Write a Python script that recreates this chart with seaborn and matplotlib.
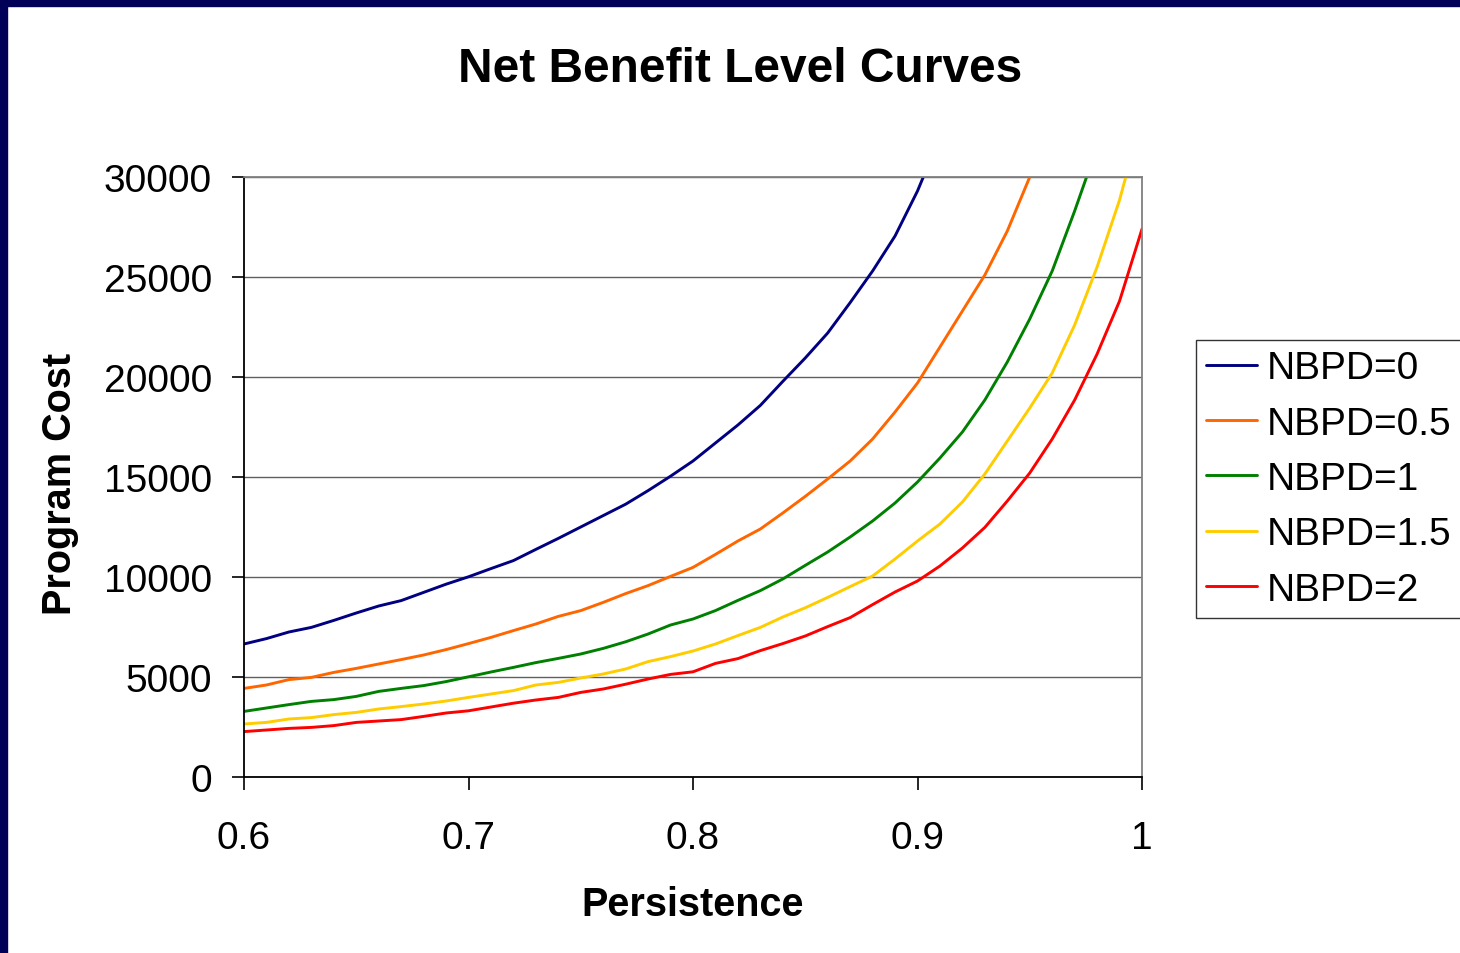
import numpy as np
import pandas as pd
import matplotlib
matplotlib.use('Agg')
import matplotlib.pyplot as plt
from matplotlib.patches import Rectangle
import seaborn as sns

# Persistence grid (x) and program cost for each NBPD level
persistence = [round(0.60 + 0.01 * i, 2) for i in range(41)]

nbpd_0 = [6650, 6920, 7250, 7480, 7830, 8200, 8550, 8820, 9230, 9640,
          10010, 10420, 10820, 11380, 11930, 12500, 13070, 13640, 14320, 15040,
          15800, 16700, 17600, 18580, 19780, 20950, 22200, 23720, 25300, 27050,
          29300, 32000]
nbpd_05 = [4430, 4600, 4870, 4980, 5230, 5430, 5650, 5870, 6100, 6370,
           6670, 6980, 7320, 7650, 8030, 8320, 8730, 9170, 9570, 10030,
           10480, 11130, 11800, 12400, 13200, 14030, 14900, 15800, 16900, 18250,
           19700, 21500, 23300, 25100, 27300, 30000, 33500]
nbpd_1 = [3280, 3450, 3620, 3780, 3870, 4030, 4280, 4430, 4570, 4770,
          5010, 5250, 5480, 5720, 5930, 6150, 6430, 6760, 7150, 7600,
          7900, 8320, 8830, 9320, 9900, 10580, 11250, 12000, 12800, 13700,
          14750, 15950, 17250, 18850, 20750, 22900, 25300, 28300, 31500]
nbpd_15 = [2650, 2730, 2900, 2970, 3120, 3230, 3400, 3520, 3650, 3800,
           3980, 4150, 4320, 4600, 4730, 4950, 5150, 5400, 5770, 6020,
           6300, 6650, 7070, 7480, 8000, 8460, 8980, 9520, 10050, 10900,
           11800, 12650, 13750, 15150, 16800, 18450, 20200, 22600, 25500, 28850,
           33000]
nbpd_2 = [2270, 2350, 2430, 2480, 2570, 2730, 2800, 2870, 3030, 3200,
          3310, 3500, 3690, 3850, 3980, 4230, 4400, 4640, 4900, 5130,
          5260, 5680, 5920, 6320, 6670, 7050, 7520, 7970, 8620, 9250,
          9800, 10550, 11450, 12480, 13800, 15200, 16900, 18850, 21150, 23800,
          27400]

series_names = ['NBPD=0', 'NBPD=0.5', 'NBPD=1', 'NBPD=1.5', 'NBPD=2']
series_values = [nbpd_0, nbpd_05, nbpd_1, nbpd_15, nbpd_2]
colors = ['#000080', '#FF6600', '#008000', '#FFCC00', '#FF0000']

y_ticks = [0, 5000, 10000, 15000, 20000, 25000, 30000]
x_ticks = [0.6, 0.7, 0.8, 0.9, 1.0]
x_tick_labels = ['0.6', '0.7', '0.8', '0.9', '1']

rows = []
for name, vals in zip(series_names, series_values):
    for p, v in zip(persistence, vals):
        rows.append({'Persistence': p, 'Cost': v, 'Series': name})
df = pd.DataFrame(rows)

sns.set_style('white')
plt.rcParams['font.family'] = ['Liberation Sans', 'DejaVu Sans']
plt.rcParams['text.color'] = 'black'
plt.rcParams['axes.labelcolor'] = 'black'
plt.rcParams['xtick.color'] = 'black'
plt.rcParams['ytick.color'] = 'black'

fig = plt.figure(figsize=(14.6, 9.54), dpi=100)
ax = fig.add_axes([244 / 1460, 1 - 778 / 954, 898 / 1460, 600 / 954])

# slide frame (dark navy strip at top and left)
fig.patches.append(Rectangle((0, 1 - 7 / 954), 1, 7 / 954, transform=fig.transFigure,
                             color='#000058', zorder=0))
fig.patches.append(Rectangle((0, 0), 7 / 1460, 1, transform=fig.transFigure,
                             color='#000058', zorder=0))

sns.lineplot(data=df, x='Persistence', y='Cost', hue='Series', hue_order=series_names,
             palette=colors, linewidth=2.1, ax=ax, legend=True)

ax.set_xlim(0.6, 1.0)
ax.set_ylim(0, 30000)
ax.set_yticks(y_ticks)
ax.set_yticklabels([str(t) for t in y_ticks])
ax.set_xticks(x_ticks)
ax.set_xticklabels(x_tick_labels)
ax.yaxis.grid(True, color='#606060', linewidth=1.0)
ax.set_axisbelow(True)

ax.tick_params(axis='both', labelsize=28, direction='out', length=9, width=1.2,
               color='black', labelcolor='black', left=True, bottom=True)
ax.tick_params(axis='y', pad=14)
ax.tick_params(axis='x', pad=22)

for side in ['left', 'bottom']:
    ax.spines[side].set_color('black')
    ax.spines[side].set_linewidth(1.3)
for side in ['top', 'right']:
    ax.spines[side].set_color('#808080')
    ax.spines[side].set_linewidth(1.3)

ax.set_xlabel('Persistence', fontsize=28.5, fontweight='bold', va='center', color='black')
ax.xaxis.set_label_coords(0.5, (778 - 905) / 600)
ax.set_ylabel('Program Cost', fontsize=28.5, fontweight='bold', va='center', color='black')
ax.yaxis.set_label_coords((60 - 244) / 898, 0.49)

fig.text(740 / 1460, 1 - 70 / 954, 'Net Benefit Level Curves', fontsize=34.5,
         fontweight='bold', ha='center', va='center', color='black')

handles, labels = ax.get_legend_handles_labels()
leg = ax.legend(handles, labels, loc='upper left',
                bbox_to_anchor=(1196 / 1460, 1 - 341 / 954), bbox_transform=fig.transFigure,
                fontsize=28, frameon=True, fancybox=False, edgecolor='black',
                borderaxespad=0, borderpad=0.26, labelspacing=0.5,
                handlelength=1.3, handletextpad=0.25)
leg.get_frame().set_linewidth(1.0)
for text in leg.get_texts():
    text.set_color('black')
for line in leg.get_lines():
    line.set_linewidth(2.1)

fig.savefig('out.png', dpi=100)
